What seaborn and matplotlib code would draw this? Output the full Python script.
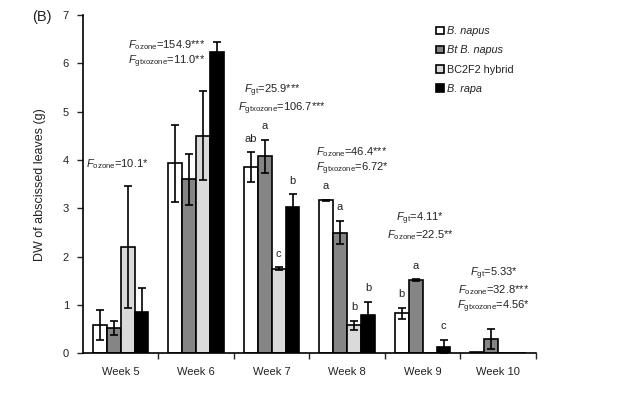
import pandas as pd
import matplotlib
matplotlib.use("Agg")
import matplotlib.pyplot as plt
import seaborn as sns

# data
weeks = ["Week 5", "Week 6", "Week 7", "Week 8", "Week 9", "Week 10"]
lines = ["B. napus", "Bt B. napus", "BC2F2 hybrid", "B. rapa"]

napus = [0.58, 3.93, 3.85, 3.17, 0.83, 0.03]
napus_err = [0.31, 0.80, 0.31, 0.01, 0.11, 0.0]
bt = [0.53, 3.60, 4.08, 2.50, 1.51, 0.30]
bt_err = [0.15, 0.52, 0.34, 0.24, 0.02, 0.20]
hybrid = [2.20, 4.50, 1.75, 0.58, 0.0, 0.0]
hybrid_err = [1.27, 0.92, 0.03, 0.10, 0.0, 0.0]
rapa = [0.85, 6.23, 3.02, 0.80, 0.14, 0.0]
rapa_err = [0.51, 0.22, 0.27, 0.27, 0.14, 0.0]

napus_letters = ["", "", "ab", "a", "b", ""]
bt_letters = ["", "", "a", "a", "a", ""]
hybrid_letters = ["", "", "c", "b", "", ""]
rapa_letters = ["", "", "b", "b", "c", ""]

# F statistics per week: (x, y, ha, text)
stats = [
    (-0.46, 3.92, "left", r"$F_{\mathrm{ozone}}$=10.1*"),
    (0.10, 6.19, "left", r"$F_{\mathrm{ozone}}$=154.9***" "\n"
                         r"$F_{\mathrm{gtxozone}}$=11.0**"),
    (1.55, 5.25, "left", r"  $F_{\mathrm{gt}}$=25.9***" "\n"
                         r"$F_{\mathrm{gtxozone}}$=106.7***"),
    (2.59, 3.98, "left", r"$F_{\mathrm{ozone}}$=46.4***" "\n"
                         r"$F_{\mathrm{gtxozone}}$=6.72*"),
    (3.97, 2.63, "center", r"$F_{\mathrm{gt}}$=4.11*" "\n"
                           r"$F_{\mathrm{ozone}}$=22.5**"),
    (4.94, 1.30, "center", r"$F_{\mathrm{gt}}$=5.33*" "\n"
                           r"$F_{\mathrm{ozone}}$=32.8***" "\n"
                           r"$F_{\mathrm{gtxozone}}$=4.56*"),
]

values = [napus, bt, hybrid, rapa]
errors = [napus_err, bt_err, hybrid_err, rapa_err]
letters = [napus_letters, bt_letters, hybrid_letters, rapa_letters]

df = pd.DataFrame({
    "week": weeks * 4,
    "line": [l for l in lines for _ in weeks],
    "dw": napus + bt + hybrid + rapa,
})

sns.set_style("white")
plt.rcParams["font.family"] = ["Liberation Sans", "DejaVu Sans"]
plt.rcParams["mathtext.fontset"] = "custom"
plt.rcParams["mathtext.rm"] = "Liberation Sans"
plt.rcParams["mathtext.it"] = "Liberation Sans:italic"
txt = "#222222"

fig = plt.figure(figsize=(6.18, 3.98), dpi=100)
ax = fig.add_axes([0.134, 0.112, 0.733, 0.850])

sns.barplot(data=df, x="week", y="dw", hue="line", hue_order=lines,
            palette=["white", "#858585", "#dadada", "black"], saturation=1,
            edgecolor="black", linewidth=1.2, width=0.74, errorbar=None, ax=ax)

# error bars and significance letters on top of the drawn bars
for cont, errs, labs in zip(ax.containers, errors, letters):
    for patch, e, lab in zip(cont.patches, errs, labs):
        xc = patch.get_x() + patch.get_width() / 2
        h = patch.get_height()
        if e > 0:
            ax.errorbar(xc, h, yerr=e, fmt="none", ecolor="black",
                        elinewidth=1.2, capsize=3, capthick=1.2)
        if lab:
            ax.text(xc, h + e + 0.28, lab, ha="center", va="center",
                    fontsize=8, color=txt)

for x, y, ha, s in stats:
    ax.text(x, y, s, ha=ha, va="center", multialignment=ha,
            fontsize=8, color=txt, linespacing=1.15)

ax.set_ylim(0, 7)
ax.set_xlim(-0.5, 5.5)
ax.set_yticks(range(8))
ax.set_xlabel("")
ax.set_ylabel("DW of abscissed leaves (g)", fontsize=9, color=txt,
              labelpad=12)
ax.tick_params(axis="y", which="major", direction="out", length=4,
               width=1, left=True, labelsize=8, labelcolor=txt, pad=6)
ax.tick_params(axis="x", which="major", length=0, labelsize=8,
               labelcolor=txt, pad=10)
ax.set_xticks([i + 0.5 for i in range(6)], minor=True)
ax.tick_params(axis="x", which="minor", direction="out", length=4,
               width=1, bottom=True)
sns.despine(ax=ax)
for sp in ["left", "bottom"]:
    ax.spines[sp].set_color("black")
    ax.spines[sp].set_linewidth(1.2)

leg = ax.legend(loc="upper left", bbox_to_anchor=(0.77, 0.98),
                frameon=False, fontsize=7.8, handlelength=0.7,
                handleheight=0.7, handletextpad=0.3, labelspacing=0.85,
                borderaxespad=0)
for t, italic in zip(leg.get_texts(), [True, True, False, True]):
    t.set_color(txt)
    if italic:
        t.set_fontstyle("italic")

fig.text(0.068, 0.957, "(B)", fontsize=10.5, ha="center", va="center",
         color=txt)

fig.savefig("out.png", dpi=100)
